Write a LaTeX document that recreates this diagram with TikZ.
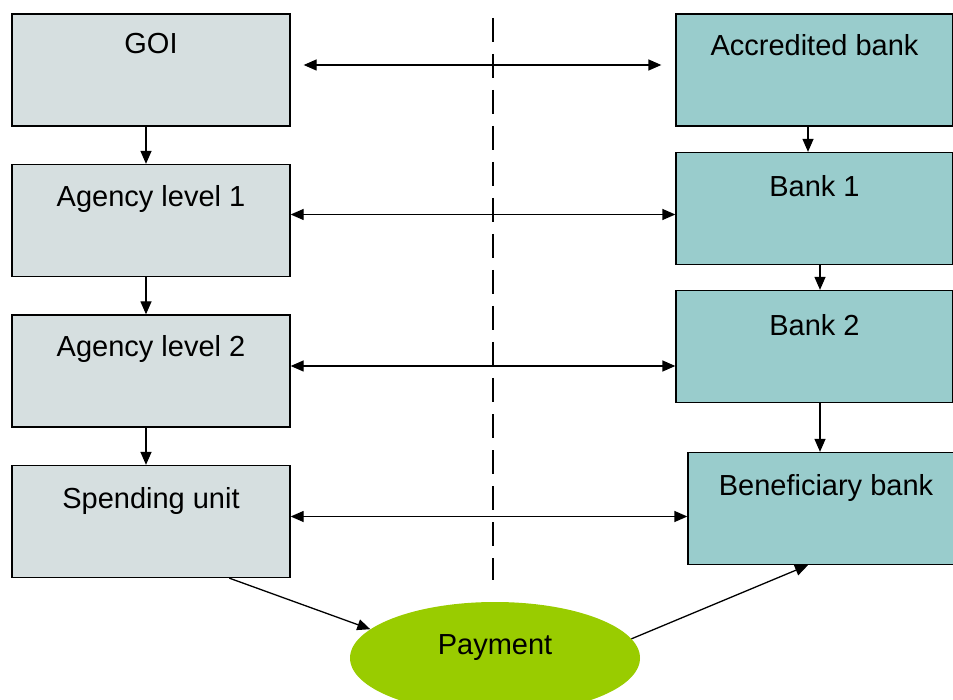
\documentclass[tikz,border=0pt]{standalone}
\usepackage{fontspec}
\setmainfont{Liberation Sans}
\usetikzlibrary{arrows.meta,shapes.geometric}
\definecolor{govfill}{HTML}{D6DFE0}
\definecolor{bankfill}{HTML}{99CCCC}
\definecolor{payfill}{HTML}{99CC00}
\tikzset{
  box/.style={draw=black, line width=1.3pt, inner sep=0pt,
    minimum width=278pt, minimum height=112pt},
  govbox/.style={box, fill=govfill},
  bankbox/.style={box, fill=bankfill},
  title/.style={anchor=center, inner sep=0pt, font=\fontsize{29}{34}\selectfont},
  tip/.style={-{Triangle[length=13pt,width=11pt]}, line width=1.3pt},
  dbl/.style={{Triangle[length=13pt,width=11pt]}-{Triangle[length=13pt,width=11pt]}, line width=1.3pt},
}
\begin{document}
\begin{tikzpicture}[x=1pt,y=-1pt]
\useasboundingbox (0,0) rectangle (953,700);

% government side
\node[govbox, label={[title, yshift=-30pt]north:GOI}] (goi) at (151,70) {};
\node[govbox, label={[title, yshift=-35pt]north:Agency level 1}] (a1) at (151,220.5) {};
\node[govbox, label={[title, yshift=-35pt]north:Agency level 2}] (a2) at (151,371) {};
\node[govbox, label={[title, yshift=-36pt]north:Spending unit}] (su) at (151,521.5) {};

% banking side
\node[bankbox, minimum width=277pt, label={[title, yshift=-32pt]north:Accredited bank}] (acc) at (814.5,70) {};
\node[bankbox, minimum width=277pt, label={[title, yshift=-34pt]north:Bank 1}] (b1) at (814.5,208.5) {};
\node[bankbox, minimum width=277pt, label={[title, yshift=-35pt]north:Bank 2}] (b2) at (814.5,346.5) {};
\node[bankbox, minimum width=270pt, label={[title, xshift=3pt, yshift=-36pt]north:Beneficiary bank}] (bb) at (823,508.5) {};

% payment
\node[ellipse, fill=payfill, inner sep=0pt, minimum width=290pt, minimum height=112pt,
  label={[title, yshift=10pt]center:Payment}] (pay) at (495,658) {};

% divider
\coordinate (dtop) at (493,18);
\coordinate (dbot) at (493,580);
\draw[line width=2pt, dash pattern=on 24pt off 12pt] (dtop) -- (dbot);

% vertical flows
\draw[tip] ([xshift=-5pt]goi.south) -- ([xshift=-5pt]a1.north);
\draw[tip] ([xshift=-5pt]a1.south) -- ([xshift=-5pt]a2.north);
\draw[tip] ([xshift=-5pt]a2.south) -- ([xshift=-5pt]su.north);
\draw[tip] ([xshift=-6.5pt]acc.south) -- ([xshift=-6.5pt]acc.south |- b1.north);
\draw[tip] ([xshift=5.5pt]b1.south) -- ([xshift=5.5pt]b1.south |- b2.north);
\draw[tip] ([xshift=5.5pt]b2.south) -- ([xshift=5.5pt]b2.south |- bb.north);

% horizontal links
\draw[dbl] ([xshift=13pt,yshift=5pt]goi.east) -- ([xshift=-14pt,yshift=5pt]acc.west);
\draw[dbl] ([yshift=6pt]a1.east) -- ([yshift=6pt]a1.east -| b1.west);
\draw[dbl] ([yshift=5pt]a2.east) -- ([yshift=5pt]a2.east -| b2.west);
\draw[dbl] ([yshift=5pt]su.east) -- ([yshift=5pt]su.east -| bb.west);

% to and from payment
\draw[tip] ([xshift=218pt]su.south west) -- (pay.167);
\draw[tip] (pay.8) -- ([xshift=-15pt]bb.south);
\end{tikzpicture}
\end{document}
